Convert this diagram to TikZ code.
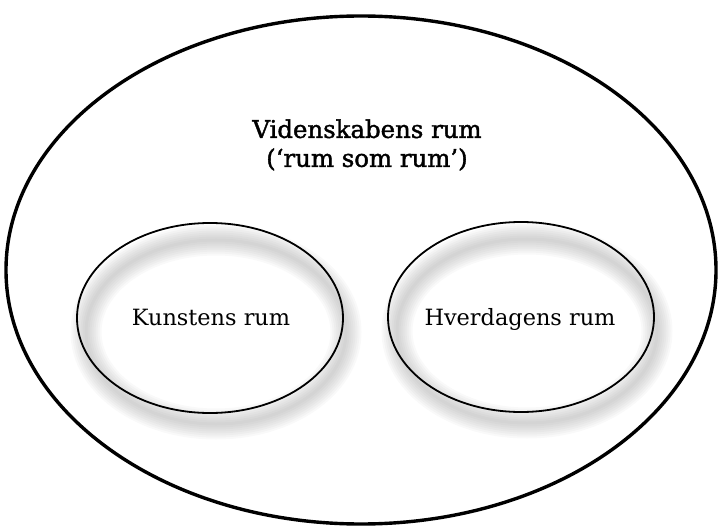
\documentclass[tikz,border=0pt]{standalone}
\usepackage{fontspec}
\usetikzlibrary{shapes.geometric}
\setmainfont{DejaVu Serif}
\newfontfamily\titlefont{DejaVu Serif}[BoldFont={DejaVu Serif},BoldFeatures={FakeBold=1.6}]
\begin{document}
\begin{tikzpicture}[x=1bp,y=-1bp,
  outer/.style={draw=black,line width=3.4bp,ellipse,inner sep=0,minimum width=710bp,minimum height=508bp},
  inner/.style={draw=black,line width=1.8bp,ellipse,inner sep=0,minimum width=266bp,minimum height=190bp},
  title/.style={font=\titlefont\bfseries\fontsize{24.5}{29}\selectfont,align=center},
  label/.style={font=\fontsize{22.5}{24}\selectfont}]
\useasboundingbox (0,0) rectangle (718,532);
% outer ellipse
\node[outer] (big) at (361,270) {};
% shadows (blurred rings)
\foreach \cx/\cy in {210/318, 521/317}{
  \foreach \w in {3,7,11,15,19,23,27,31}{
    \draw[gray,opacity=0.05,line width=\w bp] (\cx+6,\cy+14) ellipse [x radius=130, y radius=92];
  }
}
\node[inner] (kr) at (210,318) {};
\node[inner] (hr) at (521,317) {};
\node[title] (t) at (367,145) {Videnskabens rum\\(‘rum som rum’)};
\node[label] (k) at (211,317) {Kunstens rum};
\node[label] (h) at (520,319) {Hverdagens rum};
\end{tikzpicture}
\end{document}
